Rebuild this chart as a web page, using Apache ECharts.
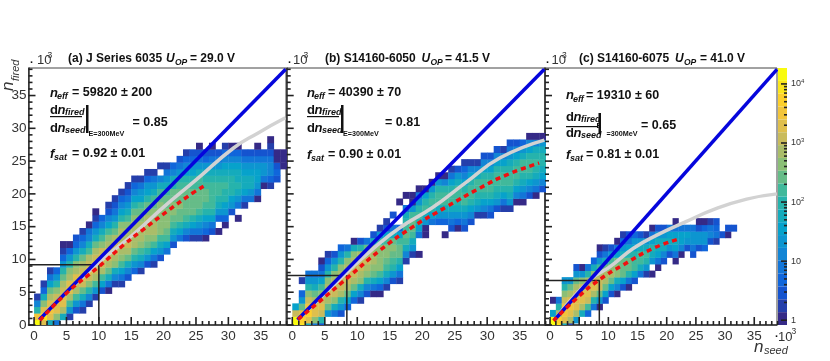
<!DOCTYPE html>
<html>
<head>
<meta charset="utf-8">
<style>
  html, body { margin: 0; padding: 0; background: #fff; }
  #chart { width: 830px; height: 361px; }
</style>
<script src="https://cdn.jsdelivr.net/npm/echarts@6/dist/echarts.min.js"></script>
</head>
<body>
<div id="chart"></div>
<script>
// each column: first row, then 10*log10(count) per row, null = empty bin
const columnsA = [
  [0, 42, 35, 20, 11, 2],
  [0, 33, 39, 33, 26, 18, 7, 2],
  [0, 18, 33, 35, 33, 29, 24, 16, 9, 2],
  [0, 9, 26, 33, 33, 31, 26, 20, 13, 7],
  [1, 18, 29, 33, 33, 31, 29, 24, 20, 13, 7, 2, 0],
  [1, 2, 13, 22, 29, 33, 33, 29, 26, 20, 13, 7, 0],
  [2, 5, 13, 22, 29, 31, 33, 29, 26, 20, 13, 7, 5],
  [2, 2, 9, 18, 24, 31, 33, 31, 29, 24, 18, 11, 7, 2],
  [3, 2, 11, 20, 26, 31, 33, 31, 29, 22, 18, 11, 9, 0],
  [4, 2, 13, 22, 29, 31, 33, 31, 29, 24, 18, 13, 7, 2, 0],
  [5, 5, 16, 22, 29, 31, 33, 31, 26, 22, 18, 11, 7],
  [5, 0, 9, 18, 24, 29, 31, 31, 29, 26, 22, 16, 11, 5, 2],
  [6, 2, 11, 18, 26, 29, 31, 31, 29, 24, 20, 13, 9, 5, 2],
  [6, 2, 9, 16, 22, 26, 29, 31, 29, 29, 26, 20, 16, 11, 7, 2],
  [7, 5, 11, 18, 24, 29, 31, 29, 29, 26, 22, 18, 13, 9, 5, 2],
  [8, 7, 13, 20, 24, 29, 29, 29, 29, 26, 24, 20, 16, 11, 7, 2],
  [8, 2, 11, 18, 22, 26, 29, 29, 29, 26, 24, 22, 16, 13, 9, 2],
  [9, 5, 13, 20, 24, 26, 29, 29, 29, 26, 24, 20, 16, 13, 7, 2],
  [9, 2, 9, 16, 22, 26, 29, 29, 26, 26, 24, 22, 18, 13, 9, 2],
  [10, 5, 13, 18, 22, 26, 26, 26, 26, 26, 24, 22, 18, 11, null, 2],
  [11, 9, 16, 22, 24, 26, 26, 26, 24, 24, 22, 18, 13, 9, 2],
  [12, 5, 13, 18, 22, 24, 26, 26, 24, 24, 20, 18, 11, 7],
  [13, 9, 16, 20, 24, 24, 26, 24, 24, 22, 20, 13, 9, 5],
  [13, 5, 11, 18, 22, 24, 24, 24, 24, 22, 20, 16, 11, 7, 2],
  [13, 2, 9, 16, 20, 24, 24, 24, 24, 22, 20, 16, 13, 7, 5],
  [13, 2, 9, 13, 18, 22, 24, 24, 24, 22, 22, 18, 13, 9, 5, 0],
  [13, 0, 7, 11, 16, 20, 22, 24, 24, 22, 20, 18, 13, 7, 5],
  [14, 5, 9, 16, 20, 22, 22, 22, 22, 20, 18, 13, 9, 5, 0],
  [14, 0, null, 7, 13, 18, 20, 22, 22, 20, 18, 13, 9, 5],
  [15, 0, 7, 13, 16, 20, 20, 22, 20, 18, 16, 11, 7, 2],
  [17, 5, 13, 16, 20, 20, 20, 18, 16, 11, 7, 0],
  [16, 0, null, 9, 13, 18, 20, 18, 18, 16, 11, 7, 0],
  [18, 2, 9, 16, 18, 18, 16, 13, 9, 5],
  [19, 9, 13, 18, 18, 16, 13, 9, 5],
  [19, 0, 9, 13, 16, 16, 13, 9, 5, 0],
  [21, 0, 9, 13, 13, 9, 5],
  [21, 2, 7, 11, 11, 9, 5, 2, 0],
  [22, 5, 7, 5, 0, 0],
  [24, 0, 0, 0]
];
const columnsB = [
  [0, 42, 42, 31, 16],
  [0, 39, 37, 33, 24, 13, 7, null, 2],
  [0, 18, 33, 37, 35, 31, 26, 20, 13, 9],
  [0, 9, 26, 33, 33, 29, 24, 18, 13, 9],
  [0, 5, 20, 31, 33, 31, 26, 22, 16, 9, 5, 0],
  [2, 13, 24, 29, 31, 29, 26, 20, 13, 7, 2],
  [2, 9, 18, 26, 31, 31, 29, 26, 20, 13, 5],
  [2, 5, 13, 20, 29, 31, 31, 29, 26, 20, 13, 7],
  [3, 7, 16, 24, 29, 31, 31, 29, 26, 20, 9],
  [4, 7, 16, 24, 29, 31, 31, 29, 26, 18, 0],
  [4, 2, 11, 18, 26, 29, 31, 31, 29, 20, 5],
  [5, 5, 11, 20, 26, 29, 31, 29, 24, 9],
  [5, 0, 9, 18, 24, 26, 29, 29, 26, 18, 5],
  [5, 0, 7, 16, 22, 26, 26, 26, 26, 20, 13, 2],
  [6, 2, 11, 18, 22, 24, 26, 26, 22, 16, 5, 2],
  [7, 5, 13, 20, 22, 24, 26, 24, 18, 9, null, 5],
  [7, 2, 9, 16, 20, 24, 24, 22, 16, 7, null, null, null, 0],
  [10, 2, 11, 18, 22, 24, 22, 20, 18, 9, null, 0],
  [11, 2, 13, 18, 22, 24, 24, 22, 13, 0, 0],
  [11, 0, null, null, 9, 16, 20, 22, 20, 13, 9, 0],
  [14, 0, 0, 13, 18, 22, 20, 16, 0],
  [16, 9, 16, 20, 22, 20, 13, 0],
  [16, 7, 13, 18, 22, 22, 20, 13, 0],
  [14, 0, null, 7, 13, 18, 22, 22, 20, 11, 0],
  [15, 5, 9, 13, 18, 22, 22, 20, 16, 9, 2],
  [15, 0, 7, 13, 18, 20, 22, 22, 18, 13, 5],
  [15, 5, 9, 13, 18, 22, 22, 20, 16, 11, 7, 2],
  [16, 5, 11, 16, 20, 22, 22, 20, 16, 11, 2],
  [17, 2, 13, 18, 20, 22, 22, 18, 11, 2],
  [17, 2, 11, 16, 20, 22, 22, 20, 16, 11, 5],
  [17, 5, 9, 16, 20, 22, 22, 20, 16, 11, 5],
  [18, 5, 13, 18, 20, 22, 22, 20, 16, 11, 5],
  [18, 2, 9, 16, 20, 22, 22, 20, 16, 11, 2],
  [18, 2, 13, 18, 20, 22, 22, 20, 18, 13, 9, 5],
  [19, 0, 11, 16, 20, 22, 22, 20, 16, 11, 5],
  [19, 0, 9, 13, 18, 20, 22, 22, 18, 13, 7],
  [20, 5, 11, 16, 20, 22, 22, 20, 16, 11, 0],
  [20, 0, 9, 13, 18, 20, 22, 20, 18, 11, 0],
  [21, 5, 11, 16, 18, 20, 20, 18, 13, 0]
];
const columnsC = [
  [0, 42, 42, 16, null, 0],
  [0, 39, 37, 29, 20, 9],
  [0, 18, 33, 35, 35, 31, 26, 20, 13],
  [0, 2, 29, 33, 35, 33, 29, 24, 13],
  [1, 13, 29, 33, 33, 31, 29, 24, 13, 5],
  [2, 18, 29, 33, 33, 31, 26, 13, 0],
  [2, 7, 22, 31, 33, 31, 29, 20, 9],
  [3, 9, 20, 29, 33, 31, 26, 18, 7],
  [3, 0, 13, 24, 31, 31, 29, 22, 13, 5, 0],
  [4, 5, 16, 24, 29, 29, 24, 18, 9, 2],
  [5, 5, 16, 24, 29, 26, 22, 13, 5],
  [5, 0, 11, 18, 26, 26, 24, 16, 9, 0],
  [6, 5, 16, 24, 24, 24, 18, 13, 7, 2],
  [6, 0, 9, 20, 24, 24, 20, 16, 9, 5],
  [7, 5, 16, 22, 22, 20, 16, 13, 7],
  [8, 9, 18, 22, 22, 18, 13, 5],
  [8, 2, 13, 20, 22, 18, 13, 2],
  [8, 0, null, 13, 18, 20, 16, 9, 0],
  [9, 0, 9, 16, 18, 18, 13, 5],
  [10, 5, 11, 18, 18, 13, 5],
  [11, 5, 13, 18, 16, 9],
  [10, 0, 9, 16, 18, 16, 9, 0],
  [11, 0, 11, 16, 16, 9],
  [12, 5, 13, 16, 9],
  [11, 5, 9, 13, 13, 9],
  [12, 5, 13, 13, 5, 0],
  [12, 7, 13, 13, 7, 0],
  [13, 5, 11, 9, 2],
  [13, 2, 9, 7, 5],
  [14, 5],
  [14, 0, 5],
  [15, 5]
];

// n_fired against n_seed, in thousands
const diagonalA = [[0.8, 0.8], [38.85, 39]];
const diagonalB = [[0.8, 0.8], [38.8, 39]];
const diagonalC = [[0.8, 0.8], [38.9, 39]];
const responseA = [[0.8, 0.8], [5, 5], [10.2, 9.7], [15.3, 13.8], [19.9, 17.9], [25.1, 22.2], [30.8, 27], [34.6, 29.3], [38.8, 31.6]];
const responseB = [[0.8, 0.8], [8.4, 8], [12.5, 11.7], [16.5, 14.8], [21.7, 18], [26.8, 21.8], [32, 25.5], [38.8, 28.2]];
const responseC = [[0.8, 0.8], [6.9, 6.9], [10.3, 8.9], [14.3, 11.7], [18.3, 13.7], [23.4, 15.8], [28, 17.6], [33.7, 19.2], [38.9, 20]];
const fitA = [[0.9, 0.7], [5, 4.85], [10, 8.9], [13.8, 12.2], [16.9, 14.6], [20.5, 17.3], [24.6, 20.2], [26.4, 21.3]];
const fitB = [[0.9, 0.87], [8.4, 7.1], [13.5, 11.4], [18.6, 15], [23.7, 18], [28.9, 20.9], [33, 22.9], [38, 24.7]];
const fitC = [[0.6, 0.66], [4.6, 4.1], [8.3, 6.8], [12.6, 9.2], [17.7, 11.7], [22, 13.1]];
const boxA = [[-0.86, 9.2], [10, 9.2], [10, 0]];
const boxB = [[-0.86, 7.55], [8.4, 7.55], [8.4, 0]];
const boxC = [[-0.86, 6.8], [8.45, 6.8], [8.45, 0]];

const majorTicks = [0, 5, 10, 15, 20, 25, 30, 35];
const minorTicks = [1, 2, 3, 4, 6, 7, 8, 9, 11, 12, 13, 14, 16, 17, 18, 19, 21, 22, 23, 24, 26, 27, 28, 29, 31, 32, 33, 34, 36, 37, 38, 39];
const colorDecades = [1, 10, 100, 1000, 10000];
const colorMinorTicks = [2, 3, 4, 5, 6, 7, 8, 9, 20, 30, 40, 50, 60, 70, 80, 90, 200, 300, 400, 500, 600, 700, 800, 900, 2000, 3000, 4000, 5000, 6000, 7000, 8000, 9000];

// kBird, 20 contours
const palette = ['#352a87', '#253fab', '#1554cf', '#1066db', '#1275d8', '#1285d5', '#0d95d0', '#07a2cb', '#15abbc', '#26b3ac',
  '#41b99b', '#66bc88', '#8bbf76', '#aabd69', '#c9bb5c', '#dfbf4d', '#f2c53c', '#fdd02c', '#fbe61d', '#f9fb0e'];
const logMin = -0.08, logStep = 0.2175;

const font = '"Liberation Sans", Arial, sans-serif';
const xMin = -0.86, xMax = 38.9, yMin = 0, yMax = 39.2;
const chart = echarts.init(document.getElementById('chart'));

function toCells(columns, rowOrigin) {
  const cells = [];
  columns.forEach((col, x) => {
    col.slice(1).forEach((v, i) => {
      if (v !== null) cells.push([x, col[0] + i + rowOrigin, v / 10]);
    });
  });
  return cells;
}

function renderCell(params, api) {
  const a = api.coord([api.value(0), api.value(1)]);
  const b = api.coord([api.value(0) + 1, api.value(1) + 1]);
  return {
    type: 'rect',
    shape: { x: a[0], y: b[1], width: b[0] - a[0] + 0.4, height: a[1] - b[1] + 0.4 },
    style: { fill: api.visual('color') }
  };
}

// ticks sit over the cells, so they are drawn on the axis scale above them
function tickSeries(i, anchor, values, length, color) {
  return {
    type: 'custom', xAxisIndex: i, yAxisIndex: i, silent: true, z: 6, clip: false,
    data: values.map(v => [v]),
    renderItem(params, api) {
      const v = api.value(0);
      let p, q;
      if (anchor === 'x') {
        p = api.coord([v, yMin]);
        q = [p[0], p[1] - length];
      } else if (anchor === 'y') {
        p = api.coord([xMin, v]);
        q = [p[0] + length, p[1]];
      } else {
        p = api.coord([1, v]);
        q = [p[0] - length, p[1]];
      }
      return { type: 'line', shape: { x1: p[0], y1: p[1], x2: q[0], y2: q[1] }, style: { stroke: color, lineWidth: 1.6, fill: null } };
    }
  };
}

function lineSeries(data, i, color, width, dash, smooth) {
  return {
    type: 'line', data, xAxisIndex: i, yAxisIndex: i, showSymbol: false, silent: true, z: 3,
    smooth: !!smooth,
    lineStyle: { color, width, type: dash || 'solid' }
  };
}

const panels = [
  { left: 28.5, width: 257.5, columns: columnsA, origin: -0.2, box: boxA, gray: responseA, blue: diagonalA, red: fitA },
  { left: 286.7, width: 258.3, columns: columnsB, origin: -0.7, box: boxB, gray: responseB, blue: diagonalB, red: fitB },
  { left: 545, width: 232, columns: columnsC, origin: -0.7, box: boxC, gray: responseC, blue: diagonalC, red: fitC }
];

const axisColor = '#333';
const tickColor = '#222';
const grid = [], xAxis = [], yAxis = [], series = [];
panels.forEach((p, i) => {
  grid.push({ left: p.left, top: 68, width: p.width, height: 257, show: true, borderColor: '#444', borderWidth: 1, backgroundColor: 'transparent' });
  xAxis.push({
    gridIndex: i, type: 'value', min: xMin, max: xMax, minInterval: 5, maxInterval: 5, position: 'bottom', splitLine: { show: false },
    axisLine: { lineStyle: { color: axisColor, width: 1.5 }, onZero: false },
    axisTick: { show: false },
    axisLabel: { color: '#333', fontSize: 13.5, fontFamily: font, margin: 4, showMinLabel: false, showMaxLabel: false }
  });
  yAxis.push({
    gridIndex: i, type: 'value', min: yMin, max: yMax, interval: 5, position: 'left', splitLine: { show: false },
    axisLine: { lineStyle: { color: axisColor, width: 1.5 }, onZero: false },
    axisTick: { show: false },
    axisLabel: { show: i === 0, color: '#333', fontSize: 13.5, fontFamily: font, margin: 2, showMaxLabel: false }
  });
  series.push({
    type: 'custom', xAxisIndex: i, yAxisIndex: i, data: toCells(p.columns, p.origin),
    renderItem: renderCell, clip: true, silent: true, z: 2, encode: { x: 0, y: 1 }
  });
});
const cellSeries = [0, 1, 2];
panels.forEach((p, i) => {
  series.push(lineSeries(p.box, i, '#222', 1.5));
  series.push(lineSeries(p.gray, i, '#d2d2d2', 3.5, null, true));
  series.push(lineSeries(p.blue, i, '#0505dc', 3.5));
  series.push(lineSeries(p.red, i, '#f01010', 3.5, [5, 4], true));
  series.push(tickSeries(i, 'x', majorTicks, 8, tickColor));
  series.push(tickSeries(i, 'x', minorTicks, 4, tickColor));
  series.push(tickSeries(i, 'y', majorTicks, 7, tickColor));
  series.push(tickSeries(i, 'y', minorTicks, 4, tickColor));
});

// colour scale axis
grid.push({ left: 778, top: 68, width: 9, height: 257 });
xAxis.push({ gridIndex: 3, type: 'value', show: false, min: 0, max: 1 });
yAxis.push({
  gridIndex: 3, type: 'log', logBase: 10, min: 0.83, max: 18600, position: 'right', splitLine: { show: false },
  axisLine: { show: false },
  axisTick: { show: false },
  axisLabel: {
    margin: 4, fontSize: 9, fontFamily: font, color: '#333', showMinLabel: false, showMaxLabel: false,
    formatter: v => v < 100 ? String(Math.round(v)) : '10{s|' + Math.round(Math.log10(v)) + '}',
    rich: { s: { fontSize: 6, fontFamily: font, color: '#333', padding: [0, 0, 5, 0] } }
  }
});
series.push(tickSeries(3, 'c', colorDecades, 6, tickColor));
series.push(tickSeries(3, 'c', colorMinorTicks, 3, tickColor));

const pieces = palette.map((c, i) => ({ min: logMin + i * logStep, max: logMin + (i + 1) * logStep, color: c }));

function t(x, y, text, size, o) {
  o = o || {};
  return {
    type: 'text', x, y, rotation: o.rot || 0, z: 20, silent: true,
    style: {
      text, fontSize: size, fontFamily: font, fill: o.fill || '#111',
      fontWeight: o.w || 'bold', fontStyle: o.i ? 'italic' : 'normal',
      verticalAlign: 'middle', align: 'left'
    }
  };
}
function bar(x, y, w, h) {
  return { type: 'rect', z: 20, silent: true, shape: { x, y, width: w, height: h }, style: { fill: '#111' } };
}
const it = { i: true };
const thin = { w: 'normal', fill: '#333' };

function title(x, name, ux, value, vx) {
  return [t(x, 59, name, 12), t(ux, 59, 'U', 12, it), t(ux + 9, 63, 'OP', 8.5, it), t(vx, 59, value, 12)];
}
function stats(x, eqX, yN, nText, yF, fText, endX, endText, midY) {
  return [
    t(x, yN, 'n', 13, it), t(x + 7, yN + 4, 'eff', 9, it), t(eqX, yN, nText, 12.5),
    t(x, yF, 'f', 13, it), t(x + 4, yF + 4, 'sat', 9, it), t(eqX, yF, fText, 12.5),
    t(endX, midY, endText, 12.5)
  ];
}
function fraction(x, yTop, yBar, yBot) {
  return [
    t(x, yTop, 'd', 13), t(x + 7.5, yTop, 'n', 13, it), t(x + 15, yTop + 3, 'fired', 9, it),
    bar(x, yBar, 32, 1.2),
    t(x, yBot, 'd', 13), t(x + 7.5, yBot, 'n', 13, it), t(x + 15, yBot + 3, 'seed', 9, it)
  ];
}

const graphic = [
  t(30, 63, '·', 11), t(37, 60.5, '10', 13, thin), t(47.5, 56, '3', 8.5, thin),
  t(288, 63, '·', 11), t(293, 60.5, '10', 13, thin), t(303.5, 56, '3', 8.5, thin),
  t(546, 63, '·', 11), t(551.5, 60.5, '10', 13, thin), t(562, 56, '3', 8.5, thin),
  t(775, 337, '·', 11), t(778, 337, '10', 13, thin), t(791.5, 332, '3', 8.5, thin),

  t(8, 91, 'n', 17, { w: 'normal', i: true, rot: Math.PI / 2, fill: '#333' }),
  t(16, 81, 'fired', 11, { w: 'normal', i: true, rot: Math.PI / 2, fill: '#333' }),
  t(754, 347, 'n', 17, { w: 'normal', i: true, fill: '#333' }),
  t(764, 351, 'seed', 11, { w: 'normal', i: true, fill: '#333' }),

  ...title(68, '(a) J Series 6035', 166, '= 29.0 V', 190),
  ...title(325, '(b) S14160-6050', 421.5, '= 41.5 V', 445),
  ...title(579, '(c) S14160-6075', 675, '= 41.0 V', 700),

  ...stats(50, 72, 93, '= 59820 ± 200', 154, '= 0.92 ± 0.01', 132.5, '= 0.85', 123),
  ...fraction(50, 110, 116, 128),
  bar(86, 105, 2.5, 28), t(88.5, 134, 'E=300MeV', 7.2),

  ...stats(307, 328, 93, '= 40390 ± 70', 155, '= 0.90 ± 0.01', 385, '= 0.81', 123),
  ...fraction(307, 110, 116, 128),
  bar(341, 105, 2.5, 28), t(343, 134, 'E=300MeV', 7.2),

  ...stats(566, 586, 95.5, '= 19310 ± 60', 155, '= 0.81 ± 0.01', 641, '= 0.65', 125.5),
  ...fraction(566, 117, 126, 133),
  bar(598.5, 113, 2.5, 21), t(596.5, 126, 'E', 7.2), t(606.5, 134, '=300MeV', 7.2)
];

chart.setOption({
  animation: false,
  backgroundColor: '#fff',
  grid, xAxis, yAxis, series, graphic,
  visualMap: {
    type: 'piecewise', seriesIndex: cellSeries, dimension: 2, pieces,
    left: 778, top: 68, padding: 0, itemWidth: 9, itemHeight: 257 / 20, itemGap: 0,
    itemSymbol: 'rect', showLabel: false, selectedMode: false, z: 4, hoverLink: false
  }
});
</script>
</body>
</html>
